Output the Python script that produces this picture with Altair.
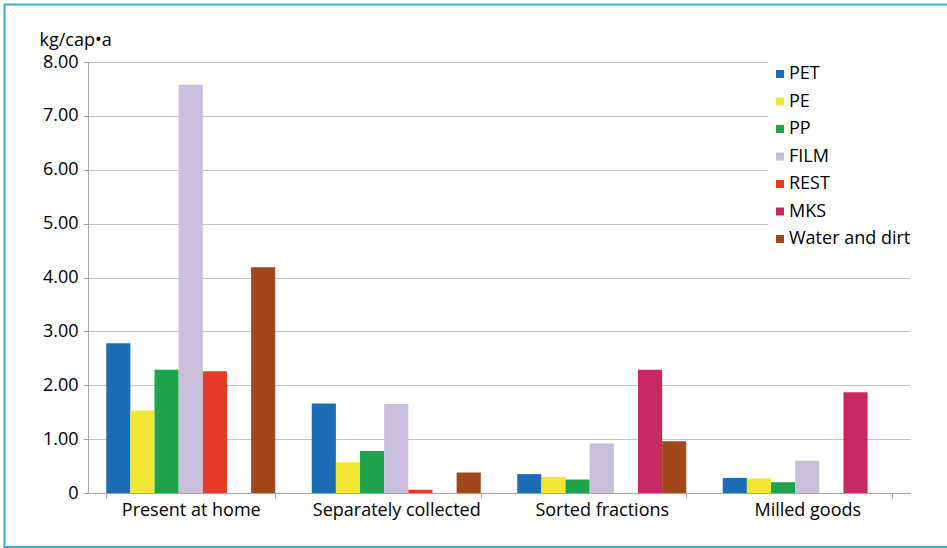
import altair as alt
import pandas as pd

categories = ["Present at home", "Separately collected", "Sorted fractions", "Milled goods"]
series = ["PET", "PE", "PP", "FILM", "REST", "MKS", "Water and dirt"]
colors = ["#1b6db5", "#f3e733", "#1fa24c", "#c9bfdc", "#e63a26", "#c72a62", "#a2461c"]

PET = [2.78, 1.66, 0.35, 0.28]
PE = [1.53, 0.57, 0.30, 0.27]
PP = [2.29, 0.78, 0.25, 0.20]
FILM = [7.58, 1.65, 0.92, 0.60]
REST = [2.26, 0.06, 0.0, 0.0]
MKS = [0.0, 0.0, 2.29, 1.87]
WATER = [4.19, 0.38, 0.96, 0.0]

y_ticks = [0, 1, 2, 3, 4, 5, 6, 7, 8]

rows = []
for s, vals in zip(series, [PET, PE, PP, FILM, REST, MKS, WATER]):
    for c, v in zip(categories, vals):
        rows.append({"category": c, "series": s, "value": v})
df = pd.DataFrame(rows)

FONT = "Open Sans"

bars = alt.Chart(df).mark_bar().encode(
    x=alt.X(
        "category:N",
        sort=categories,
        scale=alt.Scale(paddingInner=0.1776, paddingOuter=0.0888),
        axis=alt.Axis(
            title=None, labelAngle=0, tickBand="extent", grid=False,
            tickSize=5, labelPadding=3, labelFontSize=18, labelFont=FONT,
            labelColor="#000000", domainColor="#a6a6a6", tickColor="#a6a6a6",
        ),
    ),
    xOffset=alt.XOffset("series:N", sort=series, scale=alt.Scale(domain=series)),
    y=alt.Y(
        "value:Q",
        scale=alt.Scale(domain=[0, 8], nice=False),
        axis=alt.Axis(
            values=y_ticks,
            labelExpr="datum.value == 0 ? '0' : format(datum.value, '.2f')",
            title="kg/cap\u2022a", titleAngle=0, titleX=-49, titleY=-17,
            titleAlign="left", titleBaseline="alphabetic", titleFont=FONT,
            titleFontSize=18, titleFontWeight="normal", titleColor="#000000",
            tickSize=5, labelPadding=5, labelFontSize=18, labelFont=FONT,
            labelColor="#000000", domainColor="#a6a6a6", tickColor="#a6a6a6",
            gridColor="#c4c4c4", grid=True,
        ),
    ),
    color=alt.Color(
        "series:N",
        sort=series,
        scale=alt.Scale(domain=series, range=colors),
        legend=alt.Legend(
            title=None, orient="none", legendX=680, legendY=0,
            symbolType="square", symbolSize=64, symbolStrokeWidth=0,
            labelFontSize=18, labelFont=FONT, labelColor="#000000",
            rowPadding=9.5, fillColor="white", padding=3, labelOffset=0,
        ),
    ),
)

frame = alt.Chart(pd.DataFrame({"f": [0]})).mark_rect(
    fillOpacity=0, stroke="#35ace0", strokeWidth=2
).encode(
    x=alt.value(-83.5), x2=alt.value(880), y=alt.value(-57.5), y2=alt.value(485)
)

chart = alt.layer(bars, frame).properties(
    width=822,
    height=431,
    autosize=alt.AutoSizeParams(type="none"),
    padding={"left": 88, "top": 62, "right": 37, "bottom": 55},
    background="white",
).configure_view(stroke=None)

chart.save("out.html", embed_options={"renderer": "svg", "actions": False})
